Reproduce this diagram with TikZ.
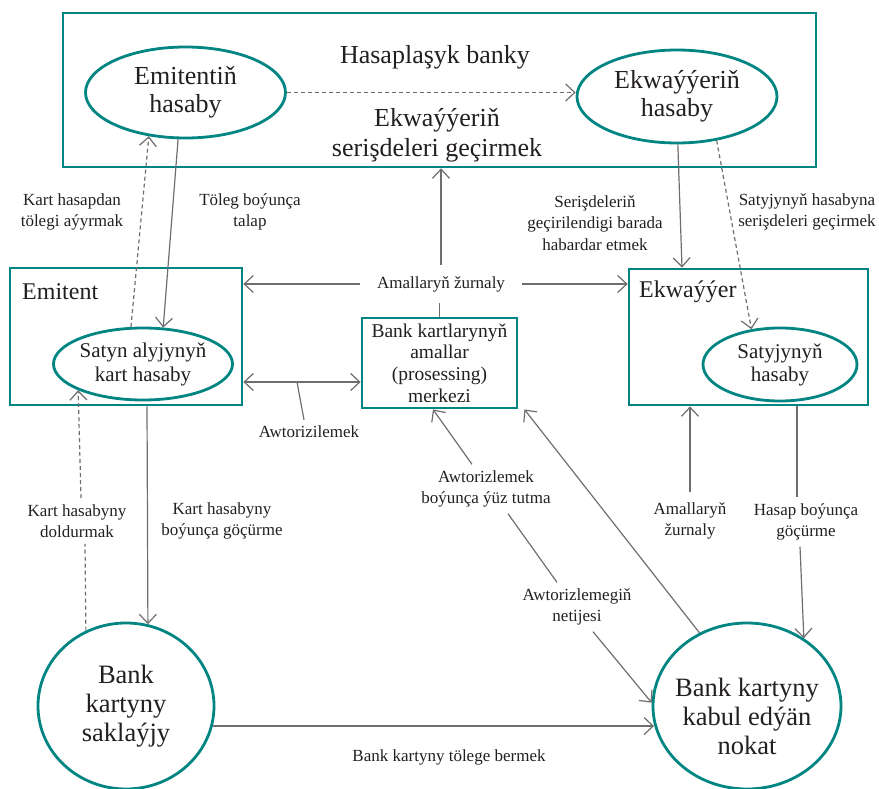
\documentclass[tikz,border=0pt]{standalone}
\usepackage{fontspec}
\setmainfont{Liberation Serif}
\usetikzlibrary{arrows.meta,shapes.geometric,calc}
\definecolor{tl}{RGB}{0,133,130}
\definecolor{ln}{RGB}{110,110,112}
\definecolor{tx}{RGB}{35,31,32}
\newcommand{\fsz}[2]{\fontsize{#1}{#2}\selectfont}
\begin{document}
\begin{tikzpicture}[x=1pt,y=-1pt,
  >={Straight Barb[length=9pt,width=17pt]},
  tbox/.style={draw=tl,line width=2.8pt,inner sep=0pt},
  tell/.style={ellipse,draw=tl,line width=2.8pt,inner sep=0pt,align=center,text=tx},
  lbl/.style={align=center,text=tx,font=\fsz{17}{21.5},inner xsep=3pt,inner ysep=6pt},
  conn/.style={draw=ln,line width=1.2pt},
  dconn/.style={conn,dash pattern=on 4pt off 3pt},
]
\useasboundingbox (0,0) rectangle (879,789);

% top box
\node[tbox,minimum width=753pt,minimum height=154pt] (top) at (439.5,90) {};
\node[text=tx,font=\fsz{26}{28}] (hb) at (435,57) {Hasaplaşyk banky};
\node[text=tx,font=\fsz{26}{30},align=center] (esg) at (437,135) {Ekwaýýeriň\\serişdeleri geçirmek};
\node[tell,minimum width=200pt,minimum height=91pt,font=\fsz{26}{28}] (emh) at (185.5,92.5) {Emitentiň\\hasaby};
\node[tell,minimum width=200pt,minimum height=93pt,font=\fsz{26}{28}] (ekh) at (677,96.5) {Ekwaýýeriň\\hasaby};

% middle boxes
\node[tbox,minimum width=232pt,minimum height=137pt] (em) at (126,336.5) {};
\node[anchor=west,text=tx,font=\fsz{24}{26},inner sep=0pt] (emt) at (22,292) {Emitent};
\node[tell,minimum width=176pt,minimum height=72pt,font=\fsz{21}{24}] (sak) at (143,364) {Satyn alyjynyň\\kart hasaby};

\node[tbox,minimum width=239pt,minimum height=136pt] (ew) at (748.5,337) {};
\node[anchor=west,text=tx,font=\fsz{24}{26},inner sep=0pt] (ewt) at (639,292) {Ekwaýýer};
\node[tell,minimum width=154pt,minimum height=73pt,font=\fsz{21}{23}] (sh) at (780,364.5) {Satyjynyň\\hasaby};

\node[tbox,minimum width=155pt,minimum height=90pt,align=center,text=tx,font=\fsz{19.5}{21.7}] (pc) at (439.5,363) {Bank kartlarynyň\\amallar\\(prosessing)\\merkezi};

% bottom circles
\node[tell,minimum width=176pt,minimum height=166pt,font=\fsz{26.5}{29}] (bk) at (126,706) {Bank\\kartyny\\saklaýjy};
\node[tell,minimum width=188pt,minimum height=166pt] (nk) at (747,706) {};
\node[align=center,text=tx,font=\fsz{26.5}{29}] (nkt) at (747,716) {Bank kartyny\\kabul edýän\\nokat};

% labels
\node[lbl] (l1) at (72,212) {Kart hasapdan\\tölegi aýyrmak};
\node[lbl] (l2) at (250,212) {Töleg boýunça\\talap};
\node[lbl] (l3) at (595,223) {Serişdeleriň\\geçirilendigi barada\\habardar etmek};
\node[lbl] (l4) at (807,212) {Satyjynyň hasabyna\\serişdeleri geçirmek};
\node[lbl,inner sep=0pt,minimum width=162pt,minimum height=38pt] (az) at (441,284) {Amallaryň žurnaly};
\node[lbl] (awl) at (309,432) {Awtorizilemek};
\node[lbl] (l5) at (77,521) {Kart hasabyny\\doldurmak};
\node[lbl] (l6) at (222,521) {Kart hasabyny\\boýunça göçürme};
\node[lbl] (l8) at (486,489) {Awtorizlemek\\boýunça ýüz tutma};
\node[lbl] (l9) at (577,607) {Awtorizlemegiň\\netijesi};
\node[lbl,inner ysep=10pt] (l10) at (690,521) {Amallaryň\\žurnaly};
\node[lbl] (l11) at (806,522) {Hasap boýunça\\göçürme};
\node[lbl] (l7) at (449,757) {Bank kartyny tölege bermek};

% connectors
\draw[dconn,->] (emh.east) -- (emh.east -| ekh.west);
\draw[conn,->] (emh.-99.4) -- (sak.61.6);
\draw[dconn,->] (sak.108.6) -- (emh.-130.7);
\draw[conn,->] (ekh.-89) -- (682,0 |- ew.north);
\draw[dconn,->] (ekh.-48.5) -- (sh.129.5);
\draw[conn,->] (az.north) -- (az.north |- top.south);
\draw[conn] (pc.north) -- (pc.north |- az.south);
\draw[conn,->] (az.west) -- (az.west -| em.east);
\draw[conn,->] (az.east) -- (az.east -| ew.west);
\draw[conn,<->] (em.east |- 0,382) -- (pc.west |- 0,382);
\coordinate (awt) at (297,382);
\draw[conn] (awt) -- ([xshift=-5pt]awl.north);
\draw[conn,->] (147,0 |- em.south) -- (bk.75.4);
\draw[dconn] (bk.118.4) -- ([xshift=8pt]l5.south);
\draw[dconn,->] ([xshift=4pt]l5.north) -- (sak.-158.3);
\draw[conn,->] (bk.-13.2) -- (654,0 |- bk.-13.2);
\draw[conn,->] ([xshift=-14pt]l8.north) -- (433,0 |- pc.south);
\draw[conn] ([xshift=22pt]l8.south) -- ([xshift=-20pt]l9.north);
\draw[conn,->] ([xshift=16pt]l9.south) -- (nk.178);
\draw[conn,->] (nk.123.2) -- ([xshift=6pt]pc.south east);
\draw[conn,->] (l10.north) -- (l10.north |- ew.south);
\draw[conn] (797,0 |- ew.south) -- ([xshift=-9pt]l11.north);
\draw[conn,->] ([xshift=-6pt]l11.south) -- (nk.50);
\end{tikzpicture}
\end{document}
